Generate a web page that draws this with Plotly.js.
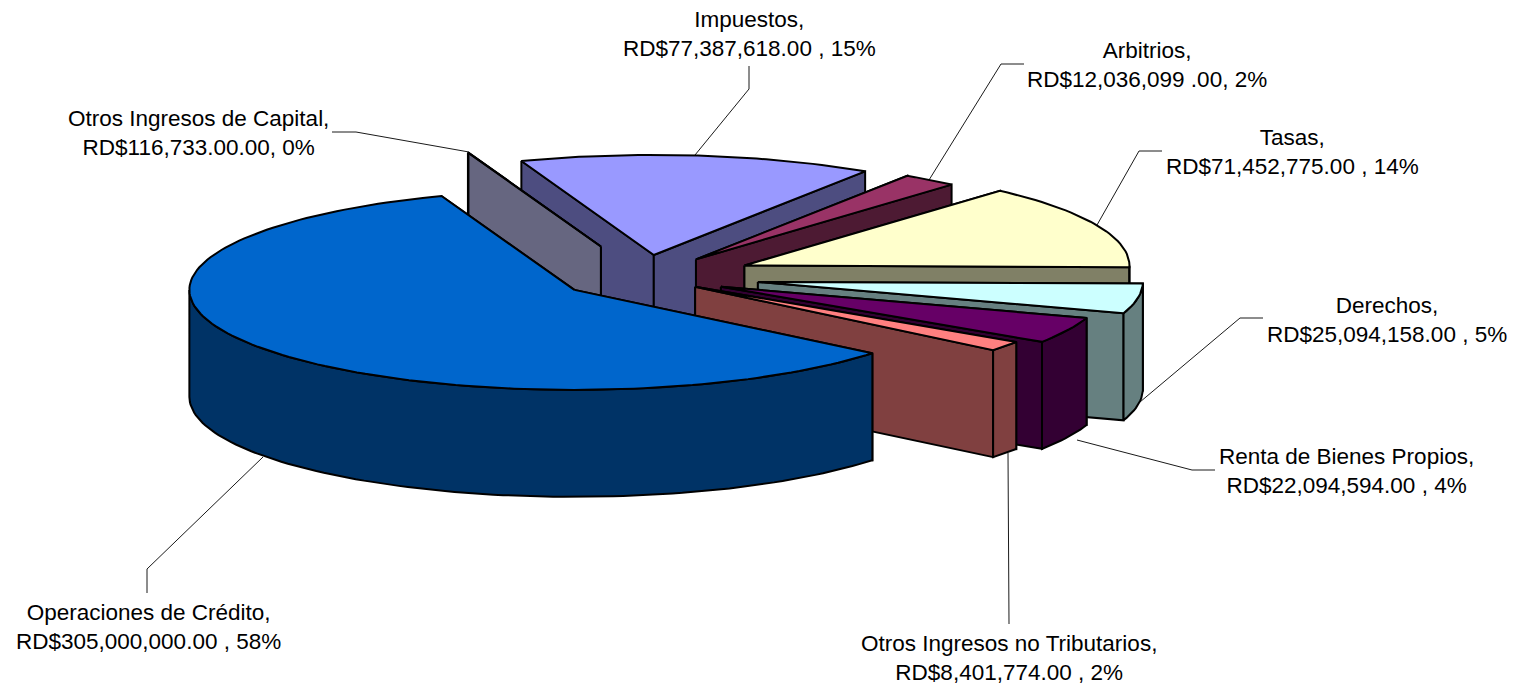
<!DOCTYPE html>
<html>
<head>
<meta charset="utf-8">
<script src="https://cdn.plot.ly/plotly-3.0.1.min.js"></script>
<style>html,body{margin:0;padding:0;background:#fff}#chart{width:1522px;height:687px}</style>
</head>
<body>
<div id="chart"></div>
<script>
// Data, clockwise from the back of the pie
const categories = ["Otros Ingresos de Capital","Impuestos","Arbitrios","Tasas","Derechos","Renta de Bienes Propios","Otros Ingresos no Tributarios","Operaciones de Crédito"];
const amounts = [116733, 77387618, 12036099, 71452775, 25094158, 22094594, 8401774, 305000000];
const amountLabels = ["RD$116,733.00.00, 0%","RD$77,387,618.00 , 15%","RD$12,036,099 .00, 2%","RD$71,452,775.00 , 14%","RD$25,094,158.00 , 5%","RD$22,094,594.00 , 4%","RD$8,401,774.00 , 2%","RD$305,000,000.00 , 58%"];

// Slice explosion (fraction of the radius)
const explode = [0.325, 0.222, 0.222, 0.285, 0.30, 0.222, 0.165, 0.222];
// Styling
const topColors  = ["#CCCCFF","#9999FF","#993366","#FFFFCC","#CCFFFF","#660066","#FF8080","#0066CC"];
const sideColors = ["#666680","#4D4D80","#4D1A33","#808066","#668080","#330033","#804040","#003366"];
const drawOrder = [1,0,2,3,4,5,6,7];
// Projection of the tilted pie
const origin = {x:644, y:277}, rx = 385, ry = 100, depth = 107, startAngle = -20.2;
// Label placement: centre x, middle y
const labelPos = [[198,133],[749,34],[1147,65],[1292.5,152],[1387,320],[1346.5,471],[1009,658],[148,627]];
// Leader lines
const leaders = [
  [[332,132],[356,132],[469,152]],
  [[749,66],[749,89],[695,155]],
  [[1024,64],[1001,64],[929,180]],
  [[1162,151],[1139,151],[1097,225]],
  [[1263,318],[1240,318],[1140,402]],
  [[1215,470],[1192,470],[1077,440]],
  [[1009,624],[1008,453]],
  [[147,593],[147,569],[263,457]]
];

const total = amounts.reduce((a,b)=>a+b,0);
const rad = d => d*Math.PI/180;
let acc = startAngle;
const slices = amounts.map((v,i)=>{
  const s = acc, e = acc + v/total*360; acc = e;
  const mid = (s+e)/2;
  return {s, e,
    cx: origin.x + explode[i]*rx*Math.sin(rad(mid)),
    cy: origin.y - explode[i]*ry*Math.cos(rad(mid))};
});
const edge = (c,a,dz=0)=>[c.cx+rx*Math.sin(rad(a)), c.cy-ry*Math.cos(rad(a))+dz];
const arc = (c,a,b,dz=0)=>{
  const n = Math.max(2,Math.ceil(Math.abs(b-a)/1.5)), pts=[];
  for(let k=0;k<=n;k++) pts.push(edge(c,a+(b-a)*k/n,dz));
  return pts;
};
const poly = (pts,fill)=>({
  type:'scatter', mode:'lines', x:pts.map(p=>p[0]), y:pts.map(p=>p[1]),
  fill:'toself', fillcolor:fill, line:{color:'#000',width:2,shape:'linear'},
  hoverinfo:'skip', showlegend:false, cliponaxis:false
});
const traces = [];
leaders.forEach(l=>traces.push({
  type:'scatter', mode:'lines', x:l.map(p=>p[0]), y:l.map(p=>p[1]),
  line:{color:'#1a1a1a',width:1}, hoverinfo:'skip', showlegend:false
}));
drawOrder.forEach(i=>{
  const c = slices[i], ctr=[c.cx,c.cy], ctrB=[c.cx,c.cy+depth];
  const wall = a => [ctr, edge(c,a), edge(c,a,depth), ctrB, ctr];
  traces.push(poly(wall(c.s),sideColors[i]));
  traces.push(poly(wall(c.e),sideColors[i]));
  const rs = Math.max(c.s,90), re = Math.min(c.e,270);
  if(re>rs){
    const up = arc(c,rs,re), down = arc(c,re,rs,depth);
    traces.push(poly(up.concat(down,[up[0]]),sideColors[i]));
  }
  const top = [ctr].concat(arc(c,c.s,c.e),[ctr]);
  traces.push(poly(top,topColors[i]));
});
const annotations = categories.map((name,i)=>({
  x:labelPos[i][0], y:labelPos[i][1], xref:'x', yref:'y',
  text:name+',<br>'+amountLabels[i], showarrow:false, align:'center',
  xanchor:'center', yanchor:'middle',
  font:{family:'"Liberation Sans", Arial, sans-serif', size:22.5, color:'#000'}
}));
const hidden = {visible:false, fixedrange:true};
Plotly.newPlot('chart', traces, {
  width:1522, height:687, margin:{l:0,r:0,t:0,b:0},
  paper_bgcolor:'#fff', plot_bgcolor:'#fff', showlegend:false,
  xaxis:Object.assign({range:[0,1522]},hidden),
  yaxis:Object.assign({range:[687,0]},hidden),
  annotations
},{displayModeBar:false, staticPlot:true});
</script>
</body>
</html>
